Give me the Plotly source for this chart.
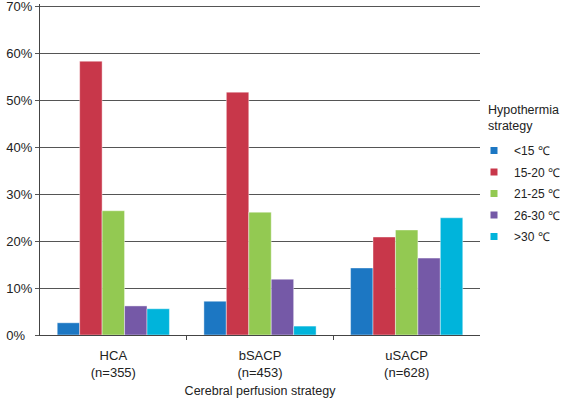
import plotly.graph_objects as go

categories = ["HCA<br>(n=355)", "bSACP<br>(n=453)", "uSACP<br>(n=628)"]
series_names = ["<15 \u2103", "15-20 \u2103", "21-25 \u2103", "26-30 \u2103", ">30 \u2103"]
v_lt15 = [2.6, 7.2, 14.3]
v_15_20 = [58.4, 51.8, 20.9]
v_21_25 = [26.5, 26.2, 22.4]
v_26_30 = [6.2, 11.9, 16.4]
v_gt30 = [5.6, 1.9, 25.0]
series_values = [v_lt15, v_15_20, v_21_25, v_26_30, v_gt30]
colors = ["#1C77C3", "#C8374A", "#93C952", "#7559A7", "#00B4DB"]
y_tickvals = [0, 10, 20, 30, 40, 50, 60, 70]
y_ticktext = ["0%\u2007", "10%", "20%", "30%", "40%", "50%", "60%", "70%"]

x_pos = list(range(len(categories)))
x_bounds = [i + 0.5 for i in x_pos[:-1]]

FONT = "Liberation Sans, Arial, sans-serif"
fig = go.Figure()
for name, vals, col in zip(series_names, series_values, colors):
    fig.add_trace(go.Bar(
        x=x_pos, y=vals, name=name, showlegend=False,
        marker=dict(color=col, line=dict(color="rgba(255,255,255,0.7)", width=0.6)),
    ))
for i, (name, col) in enumerate(zip(series_names, colors)):
    fig.add_trace(go.Scatter(
        x=[x_pos[0]], y=[None], mode="markers", name=name, legendgroup=str(i),
        marker=dict(symbol="square", size=7, color=col),
    ))

fig.update_layout(
    template="none",
    width=566, height=398,
    margin=dict(l=40, r=86, t=4, b=63, autoexpand=False),
    paper_bgcolor="white", plot_bgcolor="white",
    barmode="group", bargap=0.235, bargroupgap=0,
    font=dict(family=FONT, size=12, color="#222"),
    showlegend=True,
    legend=dict(x=(474 - 40) / 440, xanchor="left", xref="paper",
                y=(335 - 136) / 331, yanchor="top",
                font=dict(family=FONT, size=12, color="#222"),
                tracegroupgap=2.5, itemwidth=30, bgcolor="rgba(0,0,0,0)",
                borderwidth=0),
    xaxis=dict(type="linear", range=[-0.5, 2.5],
               tickvals=x_pos, ticktext=categories,
               showline=True, linecolor="#444", linewidth=1, showgrid=False,
               zeroline=False, mirror=False,
               ticks="outside", ticklen=8, tickcolor="rgba(0,0,0,0)",
               minor=dict(tickvals=x_bounds, ticks="outside", ticklen=4,
                          tickcolor="#444", showgrid=False),
               tickfont=dict(family=FONT, size=13, color="#222"),
               title=dict(text="Cerebral perfusion strategy", standoff=8,
                          font=dict(family=FONT, size=12.5, color="#222"))),
    yaxis=dict(range=[0, 70.6], tickvals=y_tickvals, ticktext=y_ticktext,
               showline=True, linecolor="#444", linewidth=1, mirror=False,
               showgrid=True, gridcolor="#555", gridwidth=1,
               ticks="outside", ticklen=4, tickcolor="#555",
               ticklabeloverflow="allow",
               tickfont=dict(family=FONT, size=13, color="#222"), zeroline=False),
    annotations=[dict(text="Hypothermia<br>strategy", x=(486 - 40) / 440, xref="paper",
                      y=(335 - 101) / 331, yref="paper",
                      showarrow=False, xanchor="left", yanchor="top", align="left",
                      font=dict(family=FONT, size=12.5, color="#222"))],
)
fig.write_html("out.html", config={"displayModeBar": False},
               post_script="document.body.style.margin='0';")
